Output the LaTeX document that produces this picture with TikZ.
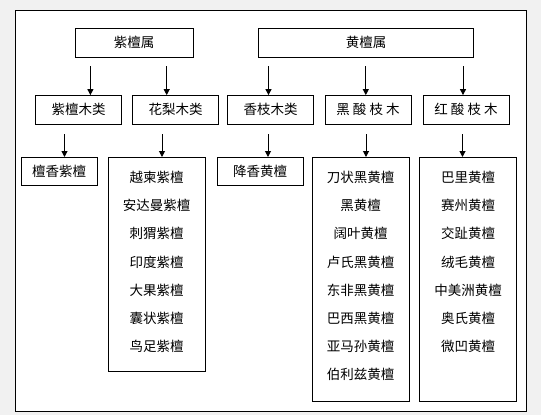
\documentclass[tikz,border=0pt]{standalone}
\usepackage{fontspec}
\newfontfamily\cjk{Noto Sans CJK SC}
\usetikzlibrary{positioning,arrows.meta}
\definecolor{pagegray}{HTML}{F1F1F1}
\newcommand{\itemstack}[2]{\parbox[c][#1][t]{97pt}{\centering\vspace*{13.5pt}#2}}

\begin{document}
\begin{tikzpicture}[x=1pt, y=-1pt,
    box/.style={draw, line width=1pt, inner sep=0pt, minimum height=28.4pt, font=\cjk\fontsize{13.5}{16}\selectfont},
    listbox/.style={draw, line width=1pt, inner sep=0pt, anchor=north west, font=\cjk\fontsize{13.5}{28.2}\selectfont},
    arrow/.style={-{Triangle[width=6pt,length=6pt]}, line width=1pt}
  ]
  \fill[pagegray] (0,0) rectangle (541,415);
  \filldraw[fill=white, line width=1pt] (15.5,10.4) rectangle (526,411.5);
  \useasboundingbox (0,0) rectangle (541,415);

  % genus
  \node[box, minimum width=118pt] (zt) at (134,42.8) {紫檀属};
  \node[box, minimum width=215pt] (ht) at (366,42.8) {黄檀属};

  % wood classes
  \node[box, minimum width=86pt] (zmt) at (78.5,109.8) {紫檀木类};
  \node[box, minimum width=86pt, right=10pt of zmt] (hlm) {花梨木类};
  \node[box, minimum width=86pt, right=8pt of hlm] (xzm) {香枝木类};
  \node[box, minimum width=86pt, right=10.5pt of xzm] (hsz) {黑 酸 枝 木};
  \node[box, minimum width=86pt, right=11pt of hsz] (hongsz) {红 酸 枝 木};

  % species
  \node[box, minimum width=76pt, minimum height=28pt, anchor=north] (txzt) at (59,157) {檀香紫檀};
  \node[listbox] (hllist) at (107.7,157) {\itemstack{214pt}{越柬紫檀\\安达曼紫檀\\刺猬紫檀\\印度紫檀\\大果紫檀\\囊状紫檀\\鸟足紫檀}};
  \node[box, minimum width=86pt, minimum height=28pt, anchor=north] (jxht) at (260,157) {降香黄檀};
  \node[listbox] (hszlist) at (311.6,157) {\itemstack{244pt}{刀状黑黄檀\\黑黄檀\\阔叶黄檀\\卢氏黑黄檀\\东非黑黄檀\\巴西黑黄檀\\亚马孙黄檀\\伯利兹黄檀}};
  \node[listbox] (hongszlist) at (419,157) {\itemstack{244pt}{巴里黄檀\\赛州黄檀\\交趾黄檀\\绒毛黄檀\\中美洲黄檀\\奥氏黄檀\\微凹黄檀}};

  % arrows
  \coordinate (t1) at (90.4,66);
  \coordinate (t2) at (166.7,66);
  \coordinate (t3) at (268.5,66);
  \coordinate (t4) at (365.8,66);
  \coordinate (t5) at (463,66);
  \coordinate (b1) at (64.5,134);
  \coordinate (b2) at (162,134);
  \coordinate (b3) at (268,134);
  \coordinate (b4) at (366,134);
  \coordinate (b5) at (462.5,134);
  \foreach \c/\n in {t1/zmt, t2/hlm, t3/xzm, t4/hsz, t5/hongsz, b1/txzt, b2/hllist, b3/jxht, b4/hszlist, b5/hongszlist}
    \draw[arrow] (\c) -- (\c |- \n.north);
\end{tikzpicture}
\end{document}
